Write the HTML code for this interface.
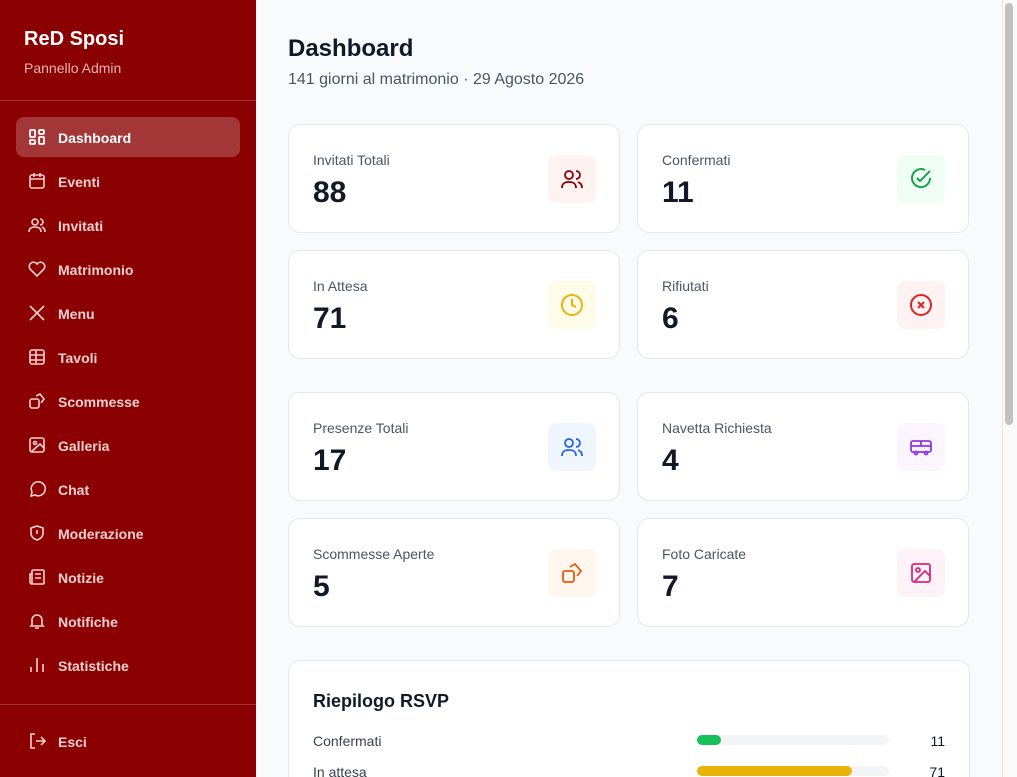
<!DOCTYPE html><html style="width:1017px;height:777px;overflow:hidden"><head><style>
*{box-sizing:border-box;margin:0;padding:0}
body{width:1017px;height:777px;overflow:hidden;font-family:"Liberation Sans",sans-serif;background:#f9fafb;position:relative}
.sb{position:absolute;left:0;top:0;width:256px;height:777px;background:#8b0000;color:#fff}
.sb h1{position:absolute;left:24px;top:28px;font-size:20px;font-weight:bold}
.sb .sub{position:absolute;left:24px;top:60px;font-size:14px;color:#e7b3b3}
.hr{position:absolute;left:0;width:256px;border-top:1px solid #a63030}
.nav{position:absolute;left:16px;width:224px;height:40px;border-radius:8px;font-size:14px;font-weight:bold;color:#f3d0d0;padding-left:42px;line-height:42px}
.nav.a{background:#a33636;color:#fff}
.nav svg{position:absolute;left:12px;top:11px}
.card{position:absolute;width:332px;height:109px;background:#fff;border:1px solid #e5e7eb;border-radius:12px}
.card .l{position:absolute;left:24px;top:27px;font-size:14px;color:#4b5563}
.card .v{position:absolute;left:24px;top:51px;font-size:30px;font-weight:bold;color:#111827}
.card .ic{position:absolute;left:259px;top:30px;width:48px;height:48px;border-radius:8px;display:flex;align-items:center;justify-content:center}
.scr{position:absolute;left:1002px;top:0;width:15px;height:777px;background:#fafafa;border-left:1px solid #e5e5e5}
.thumb{position:absolute;left:1005px;top:3px;width:8px;height:422px;background:#c1c1c1;border-radius:4px}
</style></head><body>
<div class="sb">
<h1>ReD Sposi</h1><div class="sub">Pannello Admin</div>
<div class="hr" style="top:100px"></div>
<div class="nav a" style="top:117px"><svg width="18" height="18" fill="none" stroke="#fff" stroke-width="1.8"><rect x="2" y="2" width="5" height="7" rx="1"/><rect x="11" y="2" width="5" height="4" rx="1"/><rect x="11" y="9" width="5" height="7" rx="1"/><rect x="2" y="12" width="5" height="4" rx="1"/></svg>Dashboard</div>
<div class="nav" style="top:161px"><svg width="18" height="18" fill="none" stroke="#f3d0d0" stroke-width="1.6"><rect x="2" y="3" width="14" height="13" rx="2"/><path d="M2 7h14M6 1v4M12 1v4"/></svg>Eventi</div>
<div class="nav" style="top:205px"><svg width="18" height="18" fill="none" stroke="#f3d0d0" stroke-width="1.6"><circle cx="7" cy="6" r="3"/><path d="M1 16c0-4 3-5 6-5s6 1 6 5M12 3a3 3 0 010 6M14 11c2 1 3 2 3 5"/></svg>Invitati</div>
<div class="nav" style="top:249px"><svg width="18" height="18" fill="none" stroke="#f3d0d0" stroke-width="1.6"><path d="M9 16L2 9a4 4 0 017-5 4 4 0 017 5z"/></svg>Matrimonio</div>
<div class="nav" style="top:293px"><svg width="18" height="18" fill="none" stroke="#f3d0d0" stroke-width="1.6"><path d="M2 2l14 14M16 2L2 16"/></svg>Menu</div>
<div class="nav" style="top:337px"><svg width="18" height="18" fill="none" stroke="#f3d0d0" stroke-width="1.6"><rect x="2" y="2" width="14" height="14" rx="2"/><path d="M2 7h14M2 12h14M8 2v14"/></svg>Tavoli</div>
<div class="nav" style="top:381px"><svg width="18" height="18" fill="none" stroke="#f3d0d0" stroke-width="1.6"><rect x="2" y="7" width="9" height="9" rx="2"/><path d="M8 4l4-2 4 5-3 4"/></svg>Scommesse</div>
<div class="nav" style="top:425px"><svg width="18" height="18" fill="none" stroke="#f3d0d0" stroke-width="1.6"><rect x="2" y="2" width="14" height="14" rx="2"/><circle cx="7" cy="7" r="1.5"/><path d="M16 12l-4-4-9 8"/></svg>Galleria</div>
<div class="nav" style="top:469px"><svg width="18" height="18" fill="none" stroke="#f3d0d0" stroke-width="1.6"><path d="M3 16l1-4a7 7 0 113 3z"/></svg>Chat</div>
<div class="nav" style="top:513px"><svg width="18" height="18" fill="none" stroke="#f3d0d0" stroke-width="1.6"><path d="M9 2l6 2v5c0 4-3 6-6 7-3-1-6-3-6-7V4z M9 6v4"/></svg>Moderazione</div>
<div class="nav" style="top:557px"><svg width="18" height="18" fill="none" stroke="#f3d0d0" stroke-width="1.6"><rect x="4" y="2" width="12" height="14" rx="1"/><path d="M4 6H2v8a2 2 0 002 2M7 6h6M7 10h6"/></svg>Notizie</div>
<div class="nav" style="top:601px"><svg width="18" height="18" fill="none" stroke="#f3d0d0" stroke-width="1.6"><path d="M4 13V8a5 5 0 0110 0v5l1 1H3zM7 16h4"/></svg>Notifiche</div>
<div class="nav" style="top:645px"><svg width="18" height="18" fill="none" stroke="#f3d0d0" stroke-width="1.6"><path d="M3 16v-5M9 16V2M15 16V8"/></svg>Statistiche</div>
<div class="hr" style="top:704px"></div>
<div class="nav" style="top:721px"><svg width="18" height="18" fill="none" stroke="#f3d0d0" stroke-width="1.6"><path d="M7 2H3v14h4M8 9h9M13 5l4 4-4 4"/></svg>Esci</div>
</div>
<div style="position:absolute;left:288px;top:35px;font-size:24px;font-weight:bold;color:#111827">Dashboard</div>
<div style="position:absolute;left:288px;top:71px;font-size:16px;color:#4b5563">141 giorni al matrimonio · 29 Agosto 2026</div>

<div class="card" style="left:288px;top:124px"><div class="l">Invitati Totali</div><div class="v">88</div><div class="ic" style="background:#fef2f2"><svg width="24" height="24" fill="none" stroke="#8b0000" stroke-width="1.8"><circle cx="9" cy="8" r="4"/><path d="M2 21c0-5 3-6 7-6s7 1 7 6M16 4a4 4 0 010 8M18 15c2 1 4 2 4 6"/></svg></div></div>
<div class="card" style="left:637px;top:124px"><div class="l">Confermati</div><div class="v">11</div><div class="ic" style="background:#f0fdf4"><svg width="24" height="24" fill="none" stroke="#16a34a" stroke-width="2"><path d="M21 11a9 9 0 11-5-8"/><path d="M8 11l3 3 10-10"/></svg></div></div>
<div class="card" style="left:288px;top:250px"><div class="l">In Attesa</div><div class="v">71</div><div class="ic" style="background:#fefce8"><svg width="24" height="24" fill="none" stroke="#eab308" stroke-width="2"><circle cx="12" cy="12" r="10"/><path d="M12 6v6l4 2"/></svg></div></div>
<div class="card" style="left:637px;top:250px"><div class="l">Rifiutati</div><div class="v">6</div><div class="ic" style="background:#fef2f2"><svg width="24" height="24" fill="none" stroke="#dc2626" stroke-width="2"><circle cx="12" cy="12" r="10"/><path d="M9 9l6 6M15 9l-6 6"/></svg></div></div>
<div class="card" style="left:288px;top:392px"><div class="l">Presenze Totali</div><div class="v">17</div><div class="ic" style="background:#eff6ff"><svg width="24" height="24" fill="none" stroke="#2563eb" stroke-width="1.8"><circle cx="9" cy="8" r="4"/><path d="M2 21c0-5 3-6 7-6s7 1 7 6M16 4a4 4 0 010 8M18 15c2 1 4 2 4 6"/></svg></div></div>
<div class="card" style="left:637px;top:392px"><div class="l">Navetta Richiesta</div><div class="v">4</div><div class="ic" style="background:#faf5ff"><svg width="24" height="24" fill="none" stroke="#9333ea" stroke-width="1.8"><rect x="2" y="6" width="20" height="11" rx="2"/><path d="M2 11h20M12 6v5"/><circle cx="7" cy="18" r="1.5"/><circle cx="17" cy="18" r="1.5"/></svg></div></div>
<div class="card" style="left:288px;top:518px"><div class="l">Scommesse Aperte</div><div class="v">5</div><div class="ic" style="background:#fff7ed"><svg width="24" height="24" fill="none" stroke="#ea580c" stroke-width="1.8"><rect x="3" y="10" width="11" height="11" rx="2"/><path d="M10 6l5-3 6 7-4 5"/></svg></div></div>
<div class="card" style="left:637px;top:518px"><div class="l">Foto Caricate</div><div class="v">7</div><div class="ic" style="background:#fdf2f8"><svg width="24" height="24" fill="none" stroke="#db2777" stroke-width="1.8"><rect x="3" y="3" width="18" height="18" rx="2"/><circle cx="9" cy="9" r="2"/><path d="M21 15l-5-5L5 21"/></svg></div></div>

<div style="position:absolute;left:288px;top:660px;width:682px;height:117px;background:#fff;border:1px solid #e5e7eb;border-bottom:none;border-radius:12px 12px 0 0">
<div style="position:absolute;left:24px;top:30px;font-size:18px;font-weight:bold;color:#111827">Riepilogo RSVP</div>
<div style="position:absolute;left:24px;top:72px;font-size:14px;color:#374151">Confermati</div>
<div style="position:absolute;left:408px;top:74px;width:192px;height:10px;background:#f3f4f6;border-radius:5px"><div style="width:24px;height:10px;background:#16c05a;border-radius:5px"></div></div>
<div style="position:absolute;left:620px;top:72px;width:36px;text-align:right;font-size:14px;color:#111827">11</div>
<div style="position:absolute;left:24px;top:103px;font-size:14px;color:#374151">In attesa</div>
<div style="position:absolute;left:408px;top:105px;width:192px;height:10px;background:#f3f4f6;border-radius:5px"><div style="width:155px;height:10px;background:#eab308;border-radius:5px"></div></div>
<div style="position:absolute;left:620px;top:103px;width:36px;text-align:right;font-size:14px;color:#111827">71</div>
</div>
<div class="scr"></div><div class="thumb"></div>
</body></html>
